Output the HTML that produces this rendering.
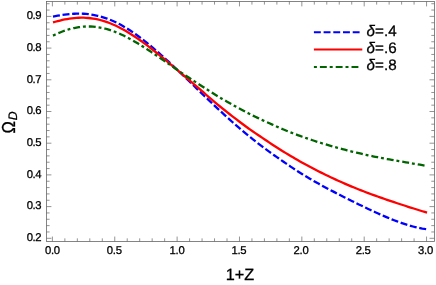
<!DOCTYPE html>
<html><head><meta charset="utf-8"><title>plot</title>
<style>
html,body{margin:0;padding:0;background:#fff;}
body{width:436px;height:285px;overflow:hidden;}
svg{display:block;will-change:transform}
text{font-family:"Liberation Sans",sans-serif;fill:#000;stroke:#000;stroke-width:0.28px;text-rendering:geometricPrecision}
</style></head><body>
<svg width="436" height="285" viewBox="0 0 436 285">
<rect width="436" height="285" fill="#fff"/>
<defs><clipPath id="c"><rect x="46.5" y="1.5" width="387.9" height="239.95"/></clipPath></defs>
<g fill="none" stroke-width="2.3" clip-path="url(#c)">
<path d="M53.00,16.56 L55.35,16.13 L57.71,15.72 L60.06,15.33 L62.41,14.97 L64.76,14.65 L67.12,14.36 L69.47,14.12 L71.82,13.92 L74.17,13.77 L76.53,13.68 L78.88,13.65 L81.23,13.68 L83.58,13.77 L85.94,13.93 L88.29,14.16 L90.64,14.45 L92.99,14.82 L95.35,15.27 L97.70,15.79 L100.05,16.38 L102.40,17.05 L104.76,17.79 L107.11,18.61 L109.46,19.51 L111.81,20.49 L114.17,21.53 L116.52,22.65 L118.87,23.85 L121.22,25.11 L123.58,26.44 L125.93,27.84 L128.28,29.31 L130.63,30.83 L132.99,32.41 L135.34,34.05 L137.69,35.74 L140.04,37.48 L142.40,39.27 L144.75,41.11 L147.10,42.98 L149.45,44.90 L151.81,46.85 L154.16,48.85 L156.51,50.87 L158.86,52.92 L161.22,55.01 L163.57,57.12 L165.92,59.25 L168.27,61.41 L170.63,63.58 L172.98,65.78 L175.33,67.99 L177.68,70.21 L180.04,72.45 L182.39,74.70 L184.74,76.95 L187.09,79.22 L189.45,81.49 L191.80,83.76 L194.15,86.03 L196.50,88.31 L198.86,90.58 L201.21,92.85 L203.56,95.11 L205.91,97.37 L208.27,99.63 L210.62,101.87 L212.97,104.11 L215.32,106.33 L217.68,108.55 L220.03,110.75 L222.38,112.93 L224.73,115.10 L227.09,117.26 L229.44,119.39 L231.79,121.51 L234.14,123.61 L236.50,125.69 L238.85,127.74 L241.20,129.75 L243.55,131.72 L245.91,133.66 L248.26,135.58 L250.61,137.48 L252.96,139.36 L255.32,141.22 L257.67,143.06 L260.02,144.87 L262.37,146.65 L264.73,148.41 L267.08,150.15 L269.43,151.86 L271.78,153.56 L274.14,155.23 L276.49,156.89 L278.84,158.52 L281.19,160.15 L283.55,161.77 L285.90,163.38 L288.25,164.99 L290.60,166.58 L292.96,168.15 L295.31,169.71 L297.66,171.23 L300.01,172.72 L302.37,174.19 L304.72,175.63 L307.07,177.06 L309.42,178.47 L311.78,179.86 L314.13,181.22 L316.48,182.56 L318.83,183.87 L321.19,185.15 L323.54,186.42 L325.89,187.68 L328.24,188.93 L330.60,190.16 L332.95,191.39 L335.30,192.61 L337.65,193.82 L340.01,195.03 L342.36,196.22 L344.71,197.41 L347.06,198.60 L349.42,199.78 L351.77,200.95 L354.12,202.11 L356.47,203.27 L358.83,204.42 L361.18,205.56 L363.53,206.69 L365.88,207.82 L368.24,208.93 L370.59,210.04 L372.94,211.13 L375.29,212.21 L377.65,213.28 L380.00,214.33 L382.35,215.37 L384.70,216.38 L387.06,217.38 L389.41,218.36 L391.76,219.31 L394.11,220.24 L396.47,221.14 L398.82,222.01 L401.17,222.85 L403.52,223.65 L405.88,224.42 L408.23,225.16 L410.58,225.84 L412.93,226.49 L415.29,227.09 L417.64,227.64 L419.99,228.13 L422.34,228.57 L424.70,228.95 L427.05,229.26" stroke="#0000ff" stroke-dasharray="7 2.66"/>
<path d="M53.00,22.46 L55.35,21.77 L57.71,21.13 L60.06,20.53 L62.41,19.98 L64.76,19.48 L67.12,19.04 L69.47,18.65 L71.82,18.33 L74.17,18.07 L76.53,17.88 L78.88,17.75 L81.23,17.70 L83.58,17.72 L85.94,17.82 L88.29,17.99 L90.64,18.24 L92.99,18.56 L95.35,18.96 L97.70,19.44 L100.05,20.00 L102.40,20.64 L104.76,21.35 L107.11,22.14 L109.46,23.01 L111.81,23.94 L114.17,24.96 L116.52,26.04 L118.87,27.19 L121.22,28.41 L123.58,29.70 L125.93,31.04 L128.28,32.45 L130.63,33.90 L132.99,35.42 L135.34,36.98 L137.69,38.58 L140.04,40.23 L142.40,41.92 L144.75,43.65 L147.10,45.41 L149.45,47.20 L151.81,49.02 L154.16,50.87 L156.51,52.74 L158.86,54.63 L161.22,56.55 L163.57,58.48 L165.92,60.42 L168.27,62.38 L170.63,64.35 L172.98,66.33 L175.33,68.32 L177.68,70.31 L180.04,72.31 L182.39,74.31 L184.74,76.31 L187.09,78.31 L189.45,80.31 L191.80,82.32 L194.15,84.34 L196.50,86.37 L198.86,88.41 L201.21,90.45 L203.56,92.48 L205.91,94.50 L208.27,96.52 L210.62,98.55 L212.97,100.57 L215.32,102.58 L217.68,104.56 L220.03,106.50 L222.38,108.40 L224.73,110.27 L227.09,112.13 L229.44,113.98 L231.79,115.81 L234.14,117.63 L236.50,119.43 L238.85,121.22 L241.20,123.00 L243.55,124.76 L245.91,126.50 L248.26,128.20 L250.61,129.86 L252.96,131.48 L255.32,133.09 L257.67,134.68 L260.02,136.27 L262.37,137.87 L264.73,139.47 L267.08,141.06 L269.43,142.63 L271.78,144.19 L274.14,145.72 L276.49,147.25 L278.84,148.75 L281.19,150.23 L283.55,151.70 L285.90,153.14 L288.25,154.57 L290.60,155.97 L292.96,157.35 L295.31,158.72 L297.66,160.07 L300.01,161.40 L302.37,162.71 L304.72,164.01 L307.07,165.29 L309.42,166.55 L311.78,167.80 L314.13,169.04 L316.48,170.25 L318.83,171.45 L321.19,172.63 L323.54,173.80 L325.89,174.95 L328.24,176.08 L330.60,177.20 L332.95,178.30 L335.30,179.38 L337.65,180.46 L340.01,181.51 L342.36,182.56 L344.71,183.59 L347.06,184.60 L349.42,185.60 L351.77,186.58 L354.12,187.55 L356.47,188.51 L358.83,189.45 L361.18,190.38 L363.53,191.29 L365.88,192.20 L368.24,193.09 L370.59,193.97 L372.94,194.84 L375.29,195.69 L377.65,196.54 L380.00,197.37 L382.35,198.20 L384.70,199.02 L387.06,199.83 L389.41,200.63 L391.76,201.42 L394.11,202.20 L396.47,202.98 L398.82,203.75 L401.17,204.51 L403.52,205.27 L405.88,206.03 L408.23,206.78 L410.58,207.53 L412.93,208.27 L415.29,209.02 L417.64,209.76 L419.99,210.50 L422.34,211.23 L424.70,211.97 L427.05,212.71" stroke="#ff0000"/>
<path d="M53.00,35.62 L55.35,34.51 L57.71,33.45 L60.06,32.46 L62.41,31.54 L64.76,30.68 L67.12,29.90 L69.47,29.20 L71.82,28.57 L74.17,28.02 L76.53,27.55 L78.88,27.17 L81.23,26.86 L83.58,26.65 L85.94,26.51 L88.29,26.47 L90.64,26.50 L92.99,26.63 L95.35,26.84 L97.70,27.13 L100.05,27.51 L102.40,27.97 L104.76,28.51 L107.11,29.14 L109.46,29.84 L111.81,30.62 L114.17,31.47 L116.52,32.39 L118.87,33.38 L121.22,34.43 L123.58,35.55 L125.93,36.73 L128.28,37.95 L130.63,39.23 L132.99,40.56 L135.34,41.93 L137.69,43.34 L140.04,44.78 L142.40,46.25 L144.75,47.75 L147.10,49.28 L149.45,50.83 L151.81,52.39 L154.16,53.98 L156.51,55.57 L158.86,57.18 L161.22,58.79 L163.57,60.41 L165.92,62.03 L168.27,63.66 L170.63,65.28 L172.98,66.90 L175.33,68.52 L177.68,70.13 L180.04,71.74 L182.39,73.33 L184.74,74.92 L187.09,76.50 L189.45,78.06 L191.80,79.62 L194.15,81.16 L196.50,82.68 L198.86,84.20 L201.21,85.70 L203.56,87.21 L205.91,88.73 L208.27,90.24 L210.62,91.75 L212.97,93.24 L215.32,94.72 L217.68,96.17 L220.03,97.59 L222.38,98.97 L224.73,100.34 L227.09,101.69 L229.44,103.02 L231.79,104.34 L234.14,105.65 L236.50,106.95 L238.85,108.23 L241.20,109.50 L243.55,110.75 L245.91,112.00 L248.26,113.22 L250.61,114.44 L252.96,115.62 L255.32,116.78 L257.67,117.90 L260.02,119.00 L262.37,120.09 L264.73,121.16 L267.08,122.23 L269.43,123.29 L271.78,124.36 L274.14,125.42 L276.49,126.46 L278.84,127.49 L281.19,128.50 L283.55,129.50 L285.90,130.47 L288.25,131.43 L290.60,132.37 L292.96,133.29 L295.31,134.18 L297.66,135.06 L300.01,135.91 L302.37,136.76 L304.72,137.58 L307.07,138.40 L309.42,139.20 L311.78,140.00 L314.13,140.78 L316.48,141.54 L318.83,142.28 L321.19,143.02 L323.54,143.73 L325.89,144.43 L328.24,145.12 L330.60,145.80 L332.95,146.46 L335.30,147.13 L337.65,147.79 L340.01,148.44 L342.36,149.09 L344.71,149.72 L347.06,150.34 L349.42,150.93 L351.77,151.51 L354.12,152.08 L356.47,152.64 L358.83,153.19 L361.18,153.73 L363.53,154.25 L365.88,154.77 L368.24,155.28 L370.59,155.78 L372.94,156.28 L375.29,156.76 L377.65,157.24 L380.00,157.71 L382.35,158.16 L384.70,158.61 L387.06,159.05 L389.41,159.48 L391.76,159.90 L394.11,160.31 L396.47,160.71 L398.82,161.12 L401.17,161.51 L403.52,161.91 L405.88,162.31 L408.23,162.71 L410.58,163.11 L412.93,163.51 L415.29,163.92 L417.64,164.33 L419.99,164.74 L422.34,165.15 L424.70,165.56 L427.05,165.97" stroke="#006400" stroke-dasharray="2.9 3 6.9 2.9"/>
</g>
<rect x="46.5" y="1.5" width="387.90" height="239.95" fill="none" stroke="#666666" stroke-width="0.8"/>
<path d="M52.40,241.45 v-4.9 M52.40,1.5 v4.9 M64.87,241.45 v-3.1 M64.87,1.5 v3.1 M77.34,241.45 v-3.1 M77.34,1.5 v3.1 M89.81,241.45 v-3.1 M89.81,1.5 v3.1 M102.29,241.45 v-3.1 M102.29,1.5 v3.1 M114.76,241.45 v-4.9 M114.76,1.5 v4.9 M127.23,241.45 v-3.1 M127.23,1.5 v3.1 M139.70,241.45 v-3.1 M139.70,1.5 v3.1 M152.17,241.45 v-3.1 M152.17,1.5 v3.1 M164.65,241.45 v-3.1 M164.65,1.5 v3.1 M177.12,241.45 v-4.9 M177.12,1.5 v4.9 M189.59,241.45 v-3.1 M189.59,1.5 v3.1 M202.06,241.45 v-3.1 M202.06,1.5 v3.1 M214.53,241.45 v-3.1 M214.53,1.5 v3.1 M227.00,241.45 v-3.1 M227.00,1.5 v3.1 M239.48,241.45 v-4.9 M239.48,1.5 v4.9 M251.95,241.45 v-3.1 M251.95,1.5 v3.1 M264.42,241.45 v-3.1 M264.42,1.5 v3.1 M276.89,241.45 v-3.1 M276.89,1.5 v3.1 M289.36,241.45 v-3.1 M289.36,1.5 v3.1 M301.83,241.45 v-4.9 M301.83,1.5 v4.9 M314.31,241.45 v-3.1 M314.31,1.5 v3.1 M326.78,241.45 v-3.1 M326.78,1.5 v3.1 M339.25,241.45 v-3.1 M339.25,1.5 v3.1 M351.72,241.45 v-3.1 M351.72,1.5 v3.1 M364.19,241.45 v-4.9 M364.19,1.5 v4.9 M376.66,241.45 v-3.1 M376.66,1.5 v3.1 M389.14,241.45 v-3.1 M389.14,1.5 v3.1 M401.61,241.45 v-3.1 M401.61,1.5 v3.1 M414.08,241.45 v-3.1 M414.08,1.5 v3.1 M426.55,241.45 v-4.9 M426.55,1.5 v4.9 M46.5,238.30 h4.9 M434.4,238.30 h-4.9 M46.5,231.96 h3.1 M434.4,231.96 h-3.1 M46.5,225.62 h3.1 M434.4,225.62 h-3.1 M46.5,219.28 h3.1 M434.4,219.28 h-3.1 M46.5,212.94 h3.1 M434.4,212.94 h-3.1 M46.5,206.60 h4.9 M434.4,206.60 h-4.9 M46.5,200.26 h3.1 M434.4,200.26 h-3.1 M46.5,193.92 h3.1 M434.4,193.92 h-3.1 M46.5,187.58 h3.1 M434.4,187.58 h-3.1 M46.5,181.24 h3.1 M434.4,181.24 h-3.1 M46.5,174.90 h4.9 M434.4,174.90 h-4.9 M46.5,168.56 h3.1 M434.4,168.56 h-3.1 M46.5,162.22 h3.1 M434.4,162.22 h-3.1 M46.5,155.88 h3.1 M434.4,155.88 h-3.1 M46.5,149.54 h3.1 M434.4,149.54 h-3.1 M46.5,143.20 h4.9 M434.4,143.20 h-4.9 M46.5,136.86 h3.1 M434.4,136.86 h-3.1 M46.5,130.52 h3.1 M434.4,130.52 h-3.1 M46.5,124.18 h3.1 M434.4,124.18 h-3.1 M46.5,117.84 h3.1 M434.4,117.84 h-3.1 M46.5,111.50 h4.9 M434.4,111.50 h-4.9 M46.5,105.16 h3.1 M434.4,105.16 h-3.1 M46.5,98.82 h3.1 M434.4,98.82 h-3.1 M46.5,92.48 h3.1 M434.4,92.48 h-3.1 M46.5,86.14 h3.1 M434.4,86.14 h-3.1 M46.5,79.80 h4.9 M434.4,79.80 h-4.9 M46.5,73.46 h3.1 M434.4,73.46 h-3.1 M46.5,67.12 h3.1 M434.4,67.12 h-3.1 M46.5,60.78 h3.1 M434.4,60.78 h-3.1 M46.5,54.44 h3.1 M434.4,54.44 h-3.1 M46.5,48.10 h4.9 M434.4,48.10 h-4.9 M46.5,41.76 h3.1 M434.4,41.76 h-3.1 M46.5,35.42 h3.1 M434.4,35.42 h-3.1 M46.5,29.08 h3.1 M434.4,29.08 h-3.1 M46.5,22.74 h3.1 M434.4,22.74 h-3.1 M46.5,16.40 h4.9 M434.4,16.40 h-4.9 M46.5,10.06 h3.1 M434.4,10.06 h-3.1 M46.5,3.72 h3.1 M434.4,3.72 h-3.1" stroke="#666666" stroke-width="0.7" fill="none"/>
<g font-size="11.3" letter-spacing="-0.25" stroke-width="0.2"><text x="52.40" y="254.3" text-anchor="middle">0.0</text><text x="114.26" y="254.3" text-anchor="middle">0.5</text><text x="177.02" y="254.3" text-anchor="middle">1.0</text><text x="238.88" y="254.3" text-anchor="middle">1.5</text><text x="301.03" y="254.3" text-anchor="middle">2.0</text><text x="363.19" y="254.3" text-anchor="middle">2.5</text><text x="425.55" y="254.3" text-anchor="middle">3.0</text></g><g font-size="11.3" letter-spacing="-0.42"><text x="41.2" y="241.15" text-anchor="end">0.2</text><text x="41.2" y="209.45" text-anchor="end">0.3</text><text x="41.2" y="177.75" text-anchor="end">0.4</text><text x="41.2" y="146.05" text-anchor="end">0.5</text><text x="41.2" y="114.35" text-anchor="end">0.6</text><text x="41.2" y="82.65" text-anchor="end">0.7</text><text x="41.2" y="50.95" text-anchor="end">0.8</text><text x="41.2" y="19.25" text-anchor="end">0.9</text></g>
<text x="239.9" y="280.2" font-size="16.3" stroke-width="0.2" text-anchor="middle">1+Z</text>
<g transform="translate(14.9,133.4) rotate(-90)" stroke-width="0.2"><text font-size="16.5" x="0" y="0" transform="scale(1,1.14)">Ω</text><text font-size="12.3" font-style="italic" stroke-width="0.35" x="13.1" y="2.0">D</text></g>
<g fill="none" stroke-width="2">
<path d="M313.9,32.3 H362.2" stroke="#0000ff" stroke-dasharray="6.9 2.8"/>
<path d="M313.9,49.5 H362.3" stroke="#ff0000"/>
<path d="M313.9,66.9 H359.6" stroke="#006400" stroke-dasharray="3 3 6.9 2.9"/>
</g>
<g font-size="15.2" stroke-width="0.1">
<text x="366.6" y="36.2"><tspan font-style="italic">δ</tspan>=.4</text>
<text x="366.6" y="53.4"><tspan font-style="italic">δ</tspan>=.6</text>
<text x="366.6" y="70.45"><tspan font-style="italic">δ</tspan>=.8</text>
</g>
</svg>
</body></html>
